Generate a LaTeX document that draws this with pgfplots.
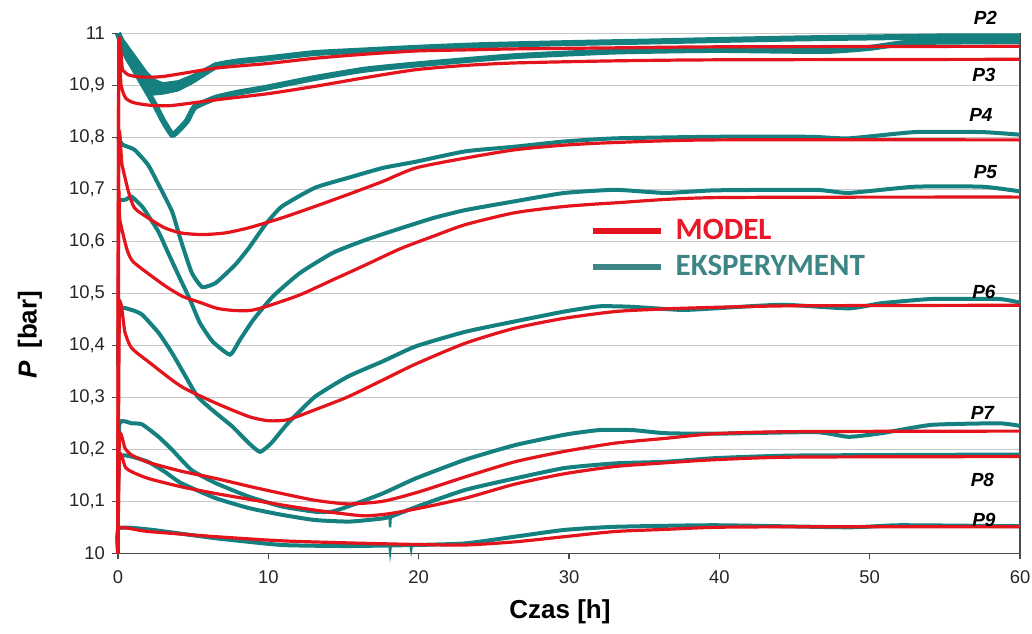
\documentclass[border=0pt]{standalone}
\usepackage{fontspec}
\setmainfont{Liberation Sans}
\newfontfamily\calibri{Carlito}
\usepackage{pgfplots}
\pgfplotsset{compat=1.18}
\definecolor{modred}{RGB}{228,20,28}
\definecolor{expteal}{RGB}{20,128,128}
\definecolor{legteal}{RGB}{62,134,134}
\definecolor{legred}{RGB}{232,24,40}
\begin{document}
\begin{tikzpicture}
\path[use as bounding box] (-59pt,-39.85pt) rectangle (457pt,276.65pt);
\begin{axis}[
  at={(0,0)}, anchor=south west,
  scale only axis, width=451pt, height=260pt,
  xmin=0, xmax=60, ymin=10, ymax=11,
  axis x line*=bottom,
  xtick={0,10,20,30,40,50,60},
  ytick={10,10.1,10.2,10.3,10.4,10.5,10.6,10.7,10.8,10.9,11},
  ymajorgrids, grid style={black!22, line width=0.8pt},
  tick align=outside, ytick pos=left,
  major tick length=3pt,
  tick style={black!70, line width=0.6pt},
  axis line style={black!70, line width=0.6pt},
  /pgf/number format/.cd, use comma, fixed, precision=1, assume math mode=true,
  /pgfplots/.cd,
  tick label style={font=\fontsize{9.2}{10}\selectfont, text=black!85},
  xticklabel style={yshift=-2pt},
  xlabel={\textbf{Czas [h]}},
  ylabel={\textbf{\textit{P}\enspace[bar]}},
  label style={font=\fontsize{13}{15}\selectfont},
  xlabel style={at={(axis description cs:0.49,-0.1115)}, anchor=center},
  ylabel style={at={(axis description cs:-0.0976,0.42)}, anchor=center},
  clip=false,
  legend image code/.code={\draw[#1] (0pt,0pt) -- (34pt,0pt);},
  legend style={draw=none, fill=none, at={(axis cs:31.35,10.585)}, anchor=west,
    inner sep=0pt, row sep=2.5pt,
    font=\calibri\bfseries\fontsize{15.5}{18}\selectfont,
    /tikz/every odd column/.append style={column sep=4pt}},
  legend cell align=left,
  exp/.style={expteal, line width=2pt, smooth, tension=0.3, forget plot},
  expthick/.style={expteal, line width=3pt, smooth, tension=0.3, forget plot},
  mod/.style={modred, line width=1.6pt, smooth, tension=0.4, forget plot},
]
\addlegendimage{modred, line width=3pt}
\addlegendentry{\textcolor{legred}{MODEL}}
\addlegendimage{legteal, line width=3pt}
\addlegendentry{\textcolor{legteal}{EKSPERYMENT}}

% ---- experiment ----
% noisy band of P2/P3 at the start
\addplot[fill=expteal, draw=none, forget plot] coordinates {(0,11.0)(0.5,10.985)(1,10.965)(1.5,10.945)(2,10.925)(2.5,10.912)(3,10.906)(4,10.91)(5,10.922)(6.5,10.945)(6.5,10.93)(5,10.903)(4,10.888)(3,10.882)(2.3,10.88)(2,10.89)(1.5,10.905)(1,10.935)(0.5,10.965)(0,10.99)} -- cycle;
% P2
\addplot[expthick] coordinates {(0,11.0)(0.5,10.97)(1,10.945)(1.5,10.92)(2.1,10.895)(2.8,10.888)(4,10.895)(5,10.91)(6.5,10.938)(8,10.946)(10,10.952)(13.1,10.962)(16.4,10.967)(19.8,10.972)(24,10.977)(29.7,10.981)(35,10.984)(39.7,10.987)(45,10.99)(50,10.992)(55,10.994)(60,10.994)};
% P3
\addplot[expthick] coordinates {(0,11.0)(0.5,10.96)(1,10.935)(1.5,10.91)(2,10.885)(2.5,10.86)(3,10.832)(3.6,10.805)(4,10.813)(4.6,10.832)(5.1,10.858)(6.5,10.876)(8,10.886)(9.8,10.895)(13.1,10.914)(16.4,10.93)(19.8,10.94)(26.4,10.956)(33.1,10.965)(39.7,10.968)(47,10.966)(50,10.972)(53,10.983)(60,10.985)};
% P4
\addplot[exp] coordinates {(0,10.8)(0.3,10.786)(1.1,10.776)(2,10.747)(2.7,10.709)(3.6,10.657)(4.2,10.6)(4.9,10.54)(5.6,10.512)(6.5,10.52)(7.8,10.555)(8.7,10.587)(9.8,10.632)(10.9,10.667)(13.1,10.703)(15.3,10.722)(17.6,10.741)(19.8,10.753)(23.1,10.773)(26.4,10.782)(29.7,10.792)(33.1,10.798)(39.7,10.801)(46,10.801)(48.6,10.798)(53,10.81)(57.5,10.81)(60,10.805)};
% P5
\addplot[exp] coordinates {(0,10.68)(0.5,10.68)(0.9,10.686)(1.6,10.667)(2,10.65)(2.7,10.618)(3.3,10.58)(4.1,10.53)(4.8,10.487)(5.45,10.443)(6.3,10.407)(7.45,10.382)(8.1,10.41)(9,10.449)(10.3,10.494)(12.1,10.539)(14.3,10.578)(16.5,10.603)(18.8,10.625)(21,10.645)(23.1,10.66)(26.4,10.677)(29.7,10.693)(33.1,10.699)(36.4,10.693)(39.7,10.698)(46.4,10.699)(48.6,10.693)(53,10.705)(57.5,10.705)(60,10.696)};
% P6
\addplot[exp] coordinates {(0,10.36)(0.1,10.468)(0.9,10.468)(1.6,10.459)(2.7,10.424)(3.6,10.385)(4.5,10.34)(5.3,10.301)(6.5,10.27)(7.6,10.244)(8.7,10.212)(9.45,10.195)(10.2,10.212)(11.3,10.25)(13.1,10.301)(15.3,10.34)(17.6,10.369)(19.8,10.398)(23.1,10.426)(26.4,10.446)(29.7,10.465)(32,10.475)(34.2,10.474)(37.5,10.468)(39.7,10.471)(44.2,10.478)(48.6,10.471)(50.8,10.481)(54.1,10.489)(58.6,10.489)(60,10.482)};
% P7
\addplot[exp] coordinates {(0,10.13)(0.1,10.25)(0.9,10.25)(1.6,10.248)(2.7,10.224)(3.6,10.199)(4.9,10.16)(6.5,10.135)(8.7,10.109)(10.9,10.09)(13.1,10.08)(14.2,10.08)(15.3,10.09)(17.6,10.115)(19.8,10.144)(23.1,10.18)(26.4,10.208)(29.7,10.228)(32,10.237)(34.2,10.237)(36.4,10.231)(39.7,10.23)(46.4,10.233)(48.6,10.224)(50.8,10.231)(54.1,10.247)(58.6,10.25)(60,10.245)};
% P8
\addplot[exp] coordinates {(0,10.12)(0.1,10.186)(0.9,10.186)(2,10.176)(3.1,10.157)(4.2,10.135)(6.5,10.106)(8.7,10.087)(10.9,10.074)(13.1,10.064)(15.4,10.061)(17.6,10.067)(18.1,10.07)(20.1,10.092)(23.1,10.122)(26.4,10.144)(29.7,10.164)(33.1,10.173)(36.4,10.176)(39.7,10.183)(45,10.188)(60,10.19)};
% P9
\addplot[exp] coordinates {(0,10.0)(0.05,10.048)(2,10.046)(6.5,10.029)(10.9,10.016)(15.3,10.014)(19.8,10.016)(23.1,10.019)(26.4,10.032)(29.7,10.045)(33.1,10.051)(39.7,10.054)(48.6,10.05)(52,10.054)(60,10.052)};
% spikes
\addplot[expteal, line width=1.2pt, forget plot] coordinates {(18.05,10.075)(18.1,10.05)(18.15,10.075)};
\addplot[expteal, line width=1.2pt, forget plot] coordinates {(18.05,10.016)(18.1,10.003)(18.15,10.016)};
\addplot[expteal, line width=1.2pt, forget plot] coordinates {(19.45,10.016)(19.5,10.007)(19.55,10.016)};

% ---- model ----
% P2
\addplot[mod] coordinates {(0,10)(0.05,10.946)(0.3,10.93)(0.7,10.92)(1.5,10.916)(3,10.917)(6.5,10.933)(10,10.942)(13.1,10.952)(16.5,10.96)(19.8,10.966)(23,10.968)(26.4,10.970)(33,10.972)(40,10.974)(60,10.975)};
% P3
\addplot[mod] coordinates {(0,10)(0.05,10.944)(0.2,10.9)(0.5,10.876)(1,10.867)(2,10.862)(3.5,10.861)(6.5,10.872)(10,10.884)(13.1,10.898)(16.5,10.915)(19.8,10.93)(23,10.938)(26.4,10.943)(33,10.947)(40,10.949)(60,10.95)};
% P4
\addplot[mod] coordinates {(0,10)(0.05,10.78)(0.27,10.747)(0.7,10.695)(1.1,10.664)(2,10.645)(3.1,10.626)(4.2,10.616)(5.6,10.613)(7.1,10.616)(8.7,10.626)(10.9,10.645)(13.1,10.667)(15.3,10.69)(17.6,10.715)(19.8,10.741)(23.1,10.76)(26.4,10.776)(29.7,10.785)(33.1,10.79)(39.7,10.795)(60,10.795)};
% P5
\addplot[mod] coordinates {(0,10)(0.05,10.67)(0.13,10.64)(0.6,10.584)(1,10.561)(2.1,10.536)(3.2,10.513)(4.3,10.494)(5.5,10.482)(6.6,10.471)(7.7,10.467)(8.8,10.467)(9.9,10.475)(12.1,10.497)(14.3,10.526)(16.5,10.555)(18.8,10.586)(21,10.61)(23.1,10.632)(26.4,10.655)(29.7,10.667)(33.1,10.674)(39.7,10.684)(60,10.685)};
% P6
\addplot[mod] coordinates {(0,10)(0.1,10.468)(0.47,10.424)(0.9,10.395)(2,10.369)(4.2,10.321)(6.5,10.289)(8.7,10.263)(10,10.255)(11.3,10.257)(13.1,10.276)(15.3,10.301)(17.6,10.333)(19.8,10.364)(23.1,10.404)(26.4,10.433)(29.7,10.452)(33.1,10.465)(36.4,10.47)(39.7,10.473)(45,10.476)(60,10.477)};
% P7
\addplot[mod] coordinates {(0,10)(0.1,10.224)(0.47,10.202)(0.9,10.189)(2,10.175)(4.2,10.158)(6.5,10.144)(8.7,10.129)(10.9,10.115)(13.1,10.102)(15.3,10.095)(17.6,10.1)(20,10.118)(23.1,10.147)(26.4,10.176)(29.7,10.196)(33.1,10.212)(36.4,10.221)(39.7,10.23)(45,10.234)(60,10.235)};
% P8
\addplot[mod] coordinates {(0,10)(0.1,10.186)(0.5,10.165)(0.9,10.157)(2,10.144)(4.2,10.128)(6.5,10.115)(8.7,10.104)(10.9,10.093)(13.1,10.083)(15.3,10.075)(16.5,10.072)(18,10.076)(20.1,10.087)(23.1,10.106)(26.4,10.133)(29.7,10.153)(33.1,10.167)(36.4,10.174)(39.7,10.18)(45,10.185)(60,10.186)};
% P9
\addplot[mod] coordinates {(0,10)(0.05,10.048)(2,10.042)(6.5,10.032)(10.9,10.024)(15.3,10.02)(19.8,10.017)(23.1,10.016)(26.4,10.022)(29.7,10.032)(33.1,10.042)(36.4,10.046)(39.7,10.05)(45,10.051)(60,10.051)};

% ---- labels ----
\begin{scope}[every node/.style={font=\bfseries\itshape\fontsize{9.5}{10}\selectfont}]
\node at (axis cs:57.7,11.03) {P2};
\node at (axis cs:57.6,10.920) {P3};
\node at (axis cs:57.4,10.843) {P4};
\node at (axis cs:57.7,10.734) {P5};
\node at (axis cs:57.6,10.503) {P6};
\node at (axis cs:57.5,10.270) {P7};
\node at (axis cs:57.5,10.141) {P8};
\node at (axis cs:57.6,10.064) {P9};
\end{scope}
\end{axis}
\end{tikzpicture}
\end{document}
